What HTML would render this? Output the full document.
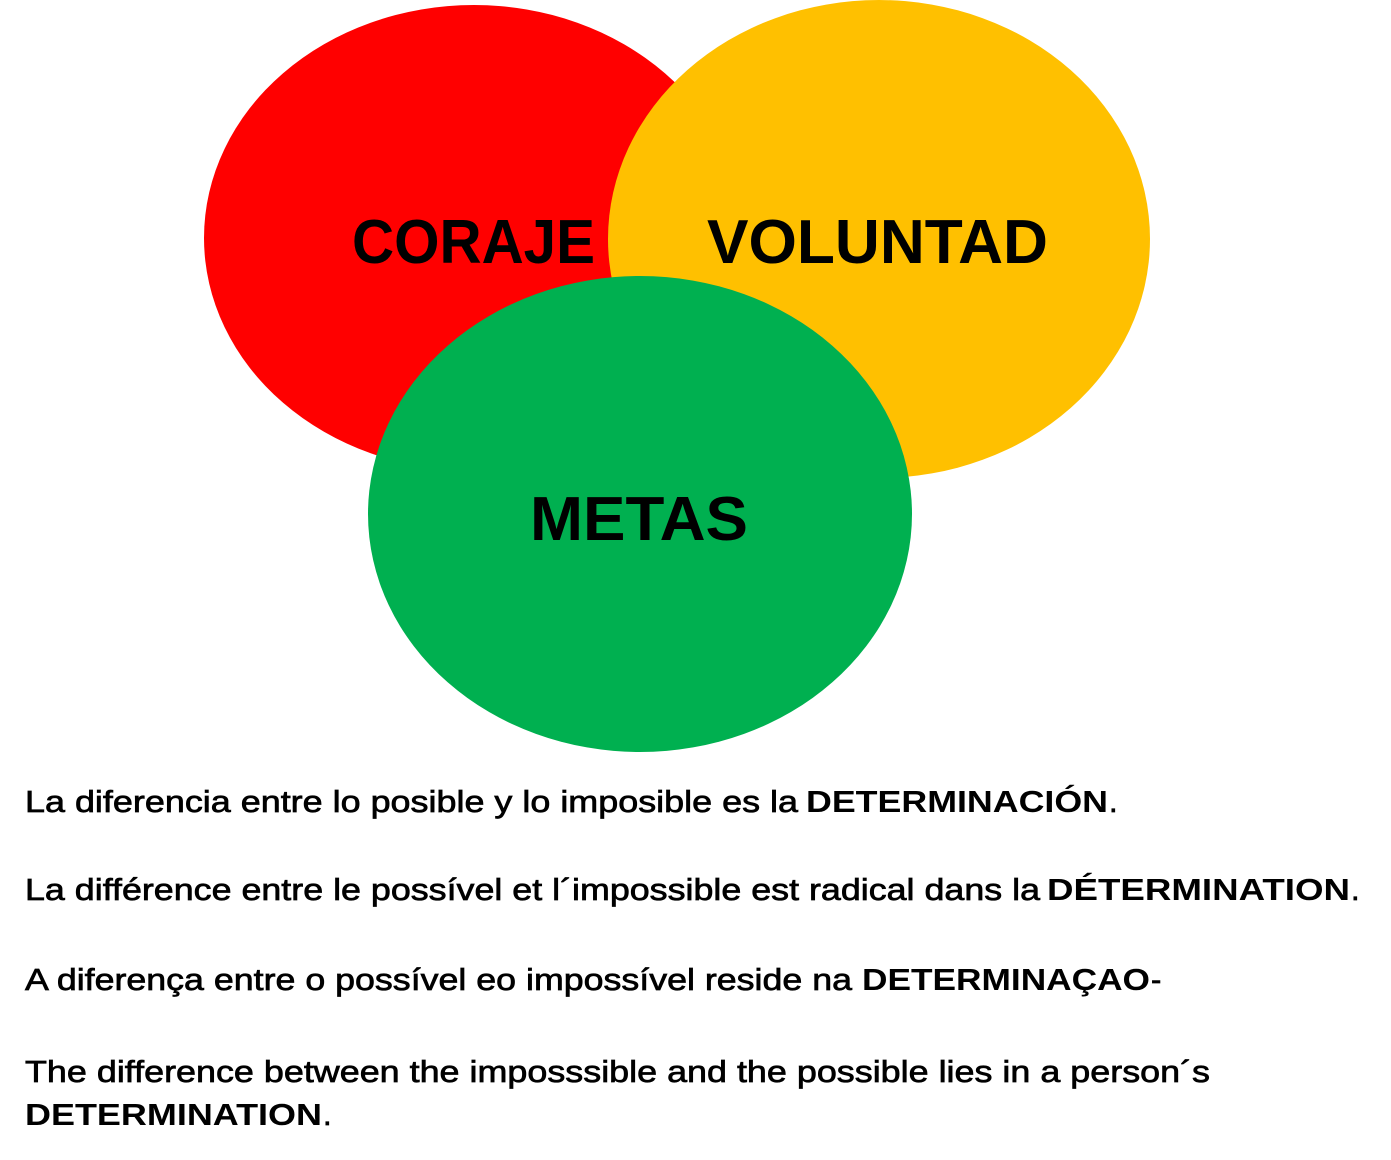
<!DOCTYPE html>
<html><head><meta charset="utf-8"><style>
html,body{margin:0;padding:0;background:#fff;}
svg{display:block;}
text{font-family:"Liberation Sans",sans-serif;}
.r{font-size:31px;fill:#000;stroke:#000;stroke-width:0.7;}
.b{font-size:31px;font-weight:bold;fill:#000;}
.big{font-size:62px;font-weight:bold;fill:#000;}
</style></head><body>
<svg width="1391" height="1160" viewBox="0 0 1391 1160" xmlns="http://www.w3.org/2000/svg">
<ellipse cx="474" cy="238" rx="270" ry="233" fill="#ff0000"/>
<ellipse cx="879" cy="239" rx="271" ry="239" fill="#ffc000"/>
<ellipse cx="640" cy="514" rx="272" ry="238" fill="#00b050"/>
<text class="big" x="352" y="263" textLength="243" lengthAdjust="spacingAndGlyphs">CORAJE</text>
<text class="big" x="707" y="263" textLength="341" lengthAdjust="spacingAndGlyphs">VOLUNTAD</text>
<text class="big" x="530" y="540" textLength="218" lengthAdjust="spacingAndGlyphs">METAS</text>

<text class="r" x="25" y="812" textLength="773" lengthAdjust="spacingAndGlyphs">La diferencia entre lo posible y lo imposible es la</text>
<text class="b" x="806" y="812" textLength="302" lengthAdjust="spacingAndGlyphs">DETERMINACIÓN</text>
<text class="r" x="1109" y="812">.</text>

<text class="r" x="25" y="900" textLength="1015" lengthAdjust="spacingAndGlyphs">La différence entre le possível et l´impossible est radical dans la</text>
<text class="b" x="1047" y="900" textLength="303" lengthAdjust="spacingAndGlyphs">DÉTERMINATION</text>
<text class="r" x="1351" y="900">.</text>

<text class="r" x="25" y="990" textLength="827" lengthAdjust="spacingAndGlyphs">A diferença entre o possível eo impossível reside na</text>
<text class="b" x="862" y="990" textLength="288" lengthAdjust="spacingAndGlyphs">DETERMINAÇAO</text>
<text class="r" x="1151" y="990">-</text>

<text class="r" x="25" y="1082" textLength="1185" lengthAdjust="spacingAndGlyphs">The difference between the imposssible and the possible lies in a person´s</text>
<text class="b" x="25" y="1125" textLength="297" lengthAdjust="spacingAndGlyphs">DETERMINATION</text>
<text class="r" x="323" y="1125">.</text>
</svg>
</body></html>
